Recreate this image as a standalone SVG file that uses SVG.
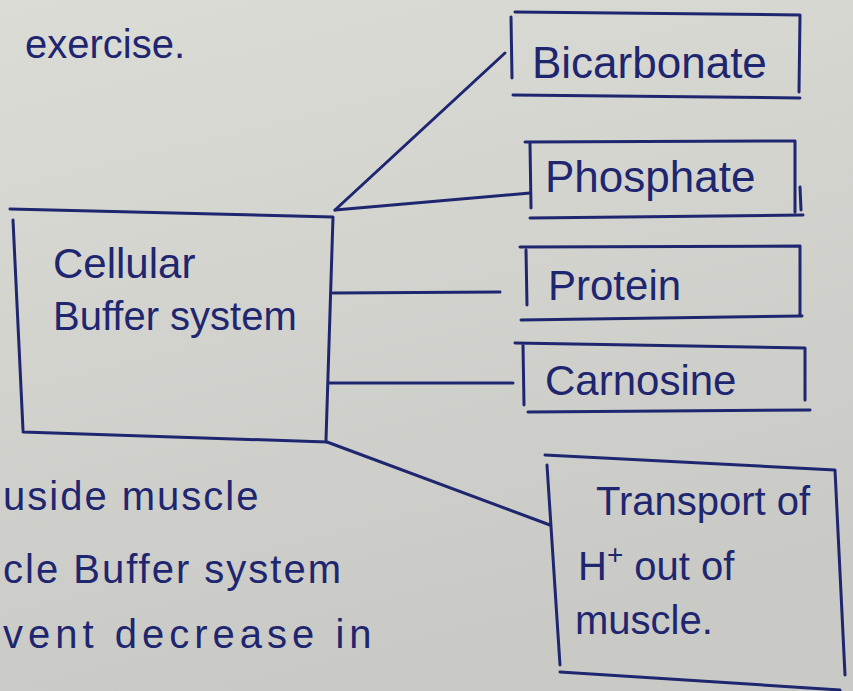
<svg xmlns="http://www.w3.org/2000/svg" width="853" height="691" viewBox="0 0 853 691">
<defs>
<linearGradient id="paper" x1="0" y1="0" x2="0.3" y2="1">
<stop offset="0" stop-color="#dcdcd7"/>
<stop offset="1" stop-color="#c9c9c5"/>
</linearGradient>
<style>
.ink{fill:none;stroke:#1f2670;stroke-width:3;stroke-linecap:round;stroke-linejoin:round}
.t{fill:#1f2670;font-family:"Liberation Sans","DejaVu Sans",sans-serif;font-size:40px}
.s{fill:#1f2670;font-family:"Liberation Sans","DejaVu Sans",sans-serif;font-size:40px;letter-spacing:2px}
</style>
</defs>
<rect width="853" height="691" fill="url(#paper)"/>

<g id="notes">
<text class="s" x="25" y="58" style="font-size:40px;letter-spacing:0">exercise.</text>
<text class="s" x="3" y="510">uside muscle</text>
<text class="s" x="3" y="583">cle Buffer system</text>
<text class="s" x="3" y="648" style="letter-spacing:5px">vent decrease in</text>
</g>

<g id="cellular">
<path class="ink" d="M10 209 L333 217 M13 220 L23 430 M23 432 L327 442 M333 217 L326 440"/>
<text class="t" x="53" y="278" style="font-size:42px">Cellular</text>
<text class="t" x="53" y="330">Buffer system</text>
</g>

<g id="bicarbonate">
<path class="ink" d="M515 12 L800 15 L799 92 M513 95 L800 98 M511 17 L512 78"/>
<text class="t" x="532" y="78" style="font-size:44px">Bicarbonate</text>
</g>

<g id="phosphate">
<path class="ink" d="M525 142 L795 141 L795 212 M530 218 L803 215 M530 143 L531 208 M800 187 L801 210"/>
<text class="t" x="545" y="192" style="font-size:44px">Phosphate</text>
</g>

<g id="protein">
<path class="ink" d="M520 247 L800 246 L800 315 M521 320 L802 316 M526 250 L527 305"/>
<text class="t" x="548" y="300" style="font-size:42px">Protein</text>
</g>

<g id="carnosine">
<path class="ink" d="M515 343 L805 348 L805 400 M528 412 L810 410 M523 345 L524 405"/>
<text class="t" x="545" y="395" style="font-size:42px">Carnosine</text>
</g>

<g id="transport">
<path class="ink" d="M545 455 L835 470 L845 675 M547 465 L560 665 M560 672 L840 690"/>
<text class="t" x="596" y="515">Transport of</text>
<text class="t" x="578" y="580">H<tspan dy="-16" style="font-size:28px">+</tspan><tspan dy="16"> out of</tspan></text>
<text class="t" x="575" y="634">muscle.</text>
</g>

<g id="connectors">
<path class="ink" d="M335 210 L505 53"/>
<path class="ink" d="M335 210 L530 193"/>
<path class="ink" d="M333 293 L500 292"/>
<path class="ink" d="M329 383 L513 383"/>
<path class="ink" d="M327 442 L550 525"/>
</g>
</svg>
